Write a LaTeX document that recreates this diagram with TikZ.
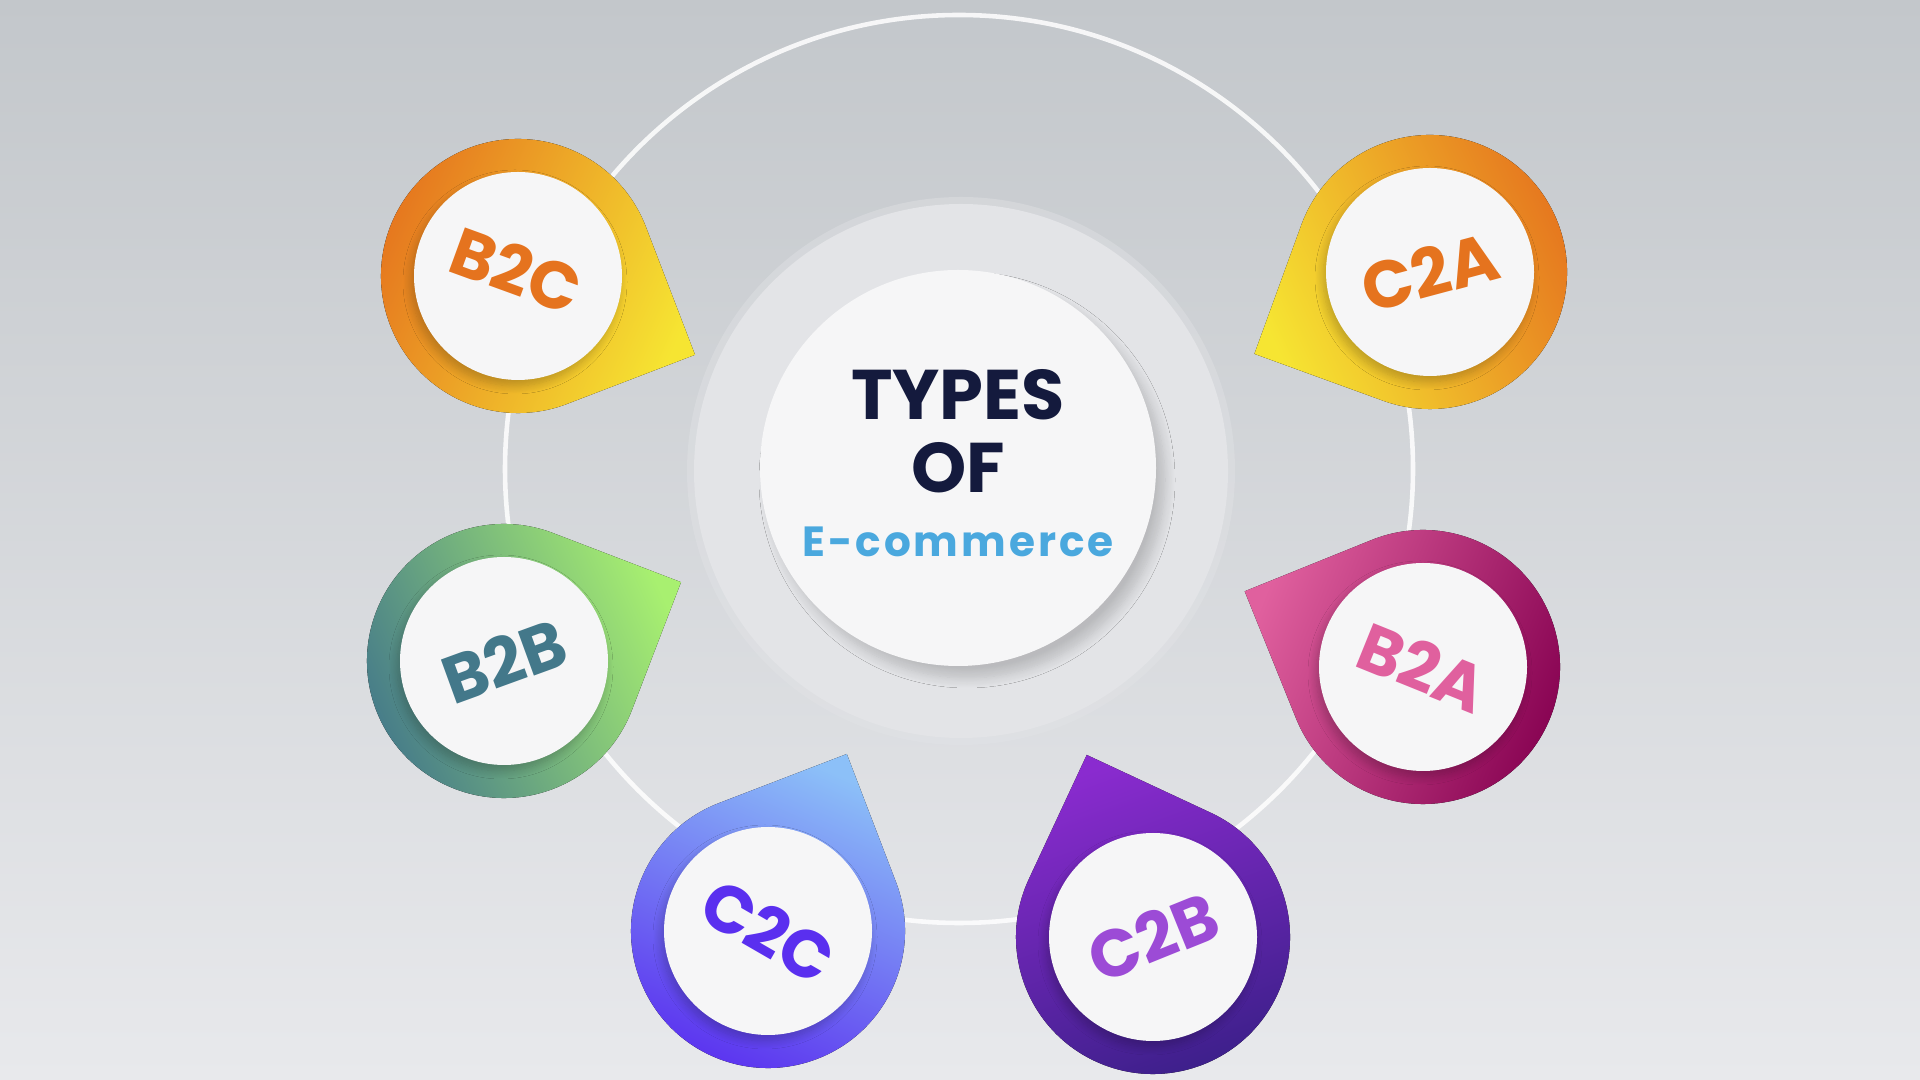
\documentclass[tikz,border=0pt]{standalone}
\usepackage{fontspec}
\setmainfont{Poppins}
\newfontfamily\spacedfont{Poppins}[LetterSpace=7]
\usetikzlibrary{shadows.blur}

\begin{document}
\begin{tikzpicture}
          \definecolor{bgtop}{HTML}{C3C7CB}
          \definecolor{bgbot}{HTML}{E8E9EC}
          \definecolor{halo}{HTML}{E3E4E7}
          \definecolor{discwhite}{HTML}{F6F6F7}
          \definecolor{navy}{HTML}{141A3D}
          \definecolor{skyblue}{HTML}{4AA8DE}
          \definecolor{pinorange}{HTML}{E5731E}
          \definecolor{pinyellow}{HTML}{F6E532}
          \definecolor{pinteal}{HTML}{43788A}
          \definecolor{pingreen}{HTML}{A8F070}
          \definecolor{pinpink}{HTML}{E0609E}
          \definecolor{pinwine}{HTML}{850050}
          \definecolor{pinsky}{HTML}{8CC0F8}
          \definecolor{pinviolet}{HTML}{5A2FEF}
          \definecolor{pinpurple}{HTML}{8A2BCF}
          \definecolor{pinindigo}{HTML}{3A1F88}
          \tikzset{
            disc/.style={fill=discwhite, blur shadow={shadow xshift=-0.03cm, shadow yshift=-0.06cm, shadow blur radius=0.08cm, shadow blur steps=10, shadow opacity=22}},
            pinlabel/.style={font=\bfseries\fontsize{19}{19}\selectfont, inner sep=0pt},
            titletext/.style={font=\bfseries\fontsize{20}{20}\selectfont, text=navy, inner sep=0pt}
          }
          \shade[top color=bgtop, bottom color=bgbot] (0, 0) rectangle (19.2, 10.8);
          \useasboundingbox (0, 0) rectangle (19.2, 10.8);
          % big ring and the halo in the middle
          \draw[white, line width=1.3pt, opacity=0.85] (9.59, 6.11) circle (4.54);
          \fill[halo, opacity=0.4] (9.61, 6.09) circle (2.74);
          \fill[halo] (9.61, 6.09) circle (2.67);
          \fill[discwhite, blur shadow={shadow xshift=0.09cm, shadow yshift=-0.12cm, shadow blur radius=0.1cm, shadow blur steps=12, shadow opacity=18}] (9.58, 6.12) circle (1.98);
          \node[titletext] (types) at (9.58, 6.85) {TYPES};
          \node[titletext] (of) at (9.58, 6.12) {OF};
          \node[font=\spacedfont\bfseries\fontsize{12}{12}\selectfont, text=skyblue, inner sep=0pt] (ecom) at (9.58, 5.38) {E-commerce};
          % the six pins
          \coordinate (b2c) at (5.18, 8.04);
          \coordinate (c2a) at (14.30, 8.08);
          \coordinate (b2b) at (5.04, 4.19);
          \coordinate (b2a) at (14.23, 4.13);
          \coordinate (c2c) at (7.68, 1.49);
          \coordinate (c2b) at (11.53, 1.43);
          \fill[top color=pinyellow, bottom color=pinorange, shading angle=-114] (b2c) ++(21:1.37) arc[start angle=21, end angle=291, radius=1.37] -- ++(21:1.37) -- cycle;
          \fill[top color=pinyellow, bottom color=pinorange, shading angle=115] (c2a) ++(-110:1.37) arc[start angle=-110, end angle=160, radius=1.37] -- ++(-110:1.37) -- cycle;
          \fill[top color=pingreen, bottom color=pinteal, shading angle=-66] (b2b) ++(69:1.37) arc[start angle=69, end angle=339, radius=1.37] -- ++(69:1.37) -- cycle;
          \fill[top color=pinpink, bottom color=pinwine, shading angle=68] (b2a) ++(202:1.37) arc[start angle=202, end angle=472, radius=1.37] -- ++(202:1.37) -- cycle;
          \fill[top color=pinsky, bottom color=pinviolet, shading angle=-24] (c2c) ++(111:1.37) arc[start angle=111, end angle=381, radius=1.37] -- ++(111:1.37) -- cycle;
          \fill[top color=pinpurple, bottom color=pinindigo, shading angle=20] (c2b) ++(155:1.37) arc[start angle=155, end angle=425, radius=1.37] -- ++(155:1.37) -- cycle;
          \fill[disc] (b2c) circle (1.04);
          \fill[disc] (c2a) circle (1.04);
          \fill[disc] (b2b) circle (1.04);
          \fill[disc] (b2a) circle (1.04);
          \fill[disc] (c2c) circle (1.04);
          \fill[disc] (c2b) circle (1.04);
          \node[pinlabel, text=pinorange, rotate=-20] (b2c text) at (5.16, 8.10) {B2C};
          \node[pinlabel, text=pinorange, rotate=15] (c2a text) at (c2a) {C2A};
          \node[pinlabel, text=pinteal, rotate=20] (b2b text) at (b2b) {B2B};
          \node[pinlabel, text=pinpink, rotate=-22] (b2a text) at (b2a) {B2A};
          \node[pinlabel, text=pinviolet, rotate=-30] (c2c text) at (c2c) {C2C};
          \node[pinlabel, text=pinpurple!85!white, rotate=22] (c2b text) at (c2b) {C2B};
    \end{tikzpicture}
\end{document}
